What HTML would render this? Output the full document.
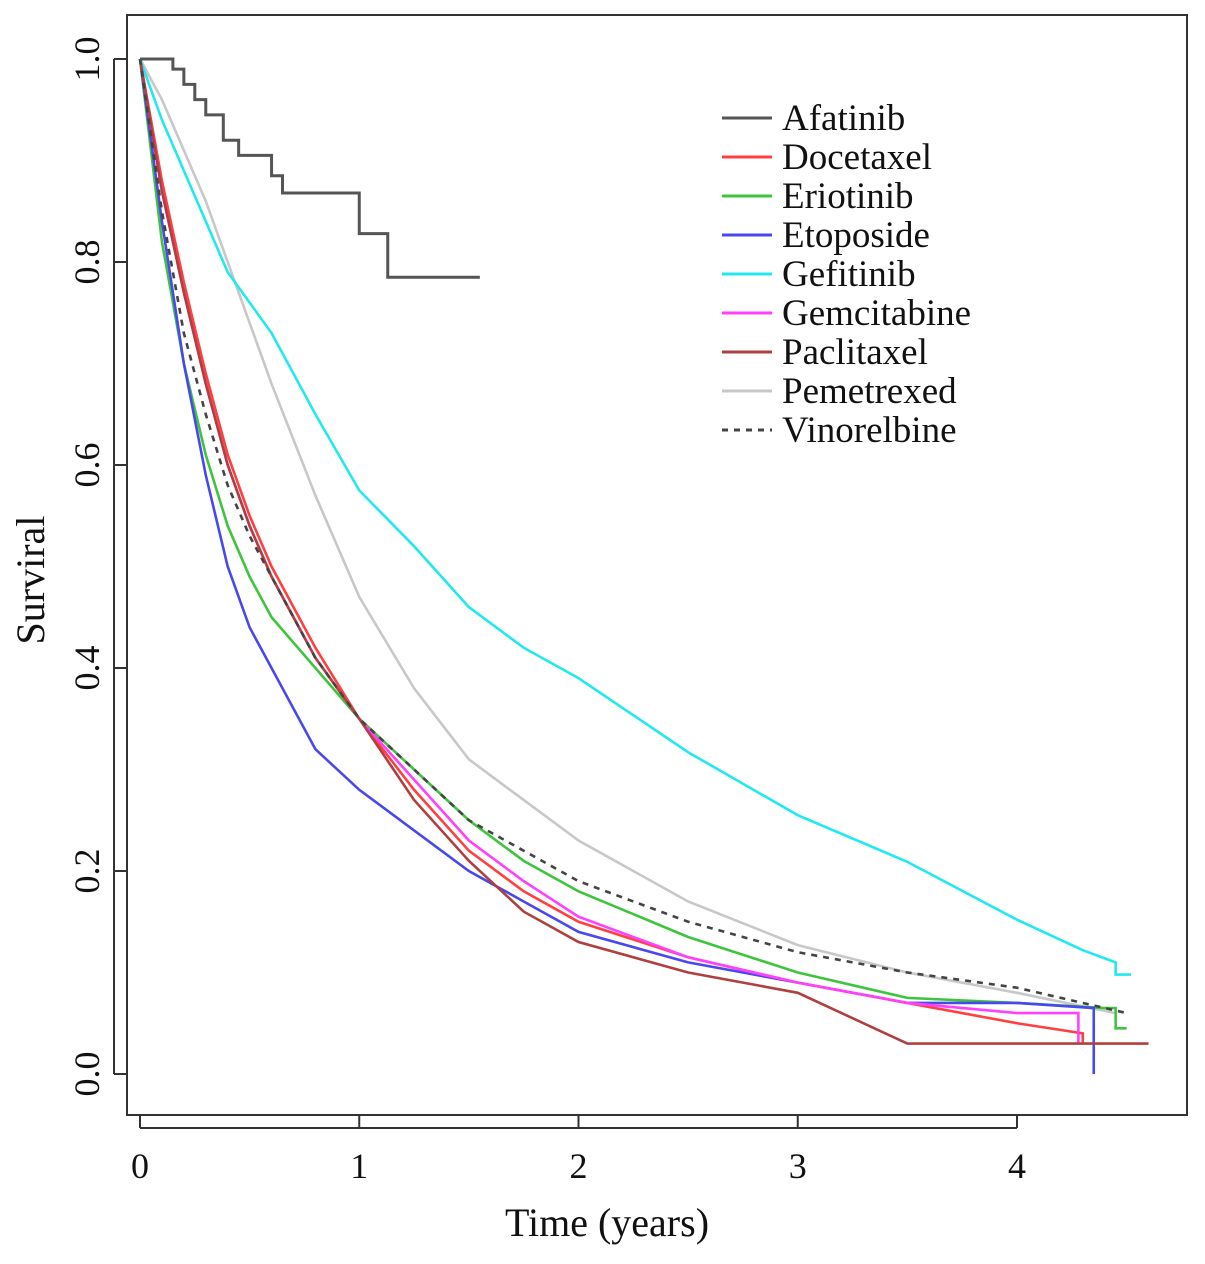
<!DOCTYPE html>
<html><head><meta charset="utf-8"><style>
html,body{margin:0;padding:0;background:#fff;}
svg text{font-family:"Liberation Serif",serif;fill:#111;}
</style></head><body>
<svg id="chart" width="1205" height="1259" xmlns="http://www.w3.org/2000/svg">
<rect x="127" y="15" width="1060" height="1100" fill="none" stroke="#333" stroke-width="2"/>
<g id="axes"></g><g id="series"></g><g id="legend"></g>
<text x="607" y="1236" font-size="40" text-anchor="middle">Time (years)</text>
<text transform="translate(44,580) rotate(-90)" font-size="40" text-anchor="middle">Surviral</text>
</svg>
<script>
const xTicks=[0,1,2,3,4];
const yTicks=[0.0,0.2,0.4,0.6,0.8,1.0];
const seriesNames=["Afatinib","Docetaxel","Eriotinib","Etoposide","Gefitinib","Gemcitabine","Paclitaxel","Pemetrexed","Vinorelbine"];
const tAfatinib=[0,0.15,0.2,0.25,0.3,0.38,0.45,0.6,0.65,1.0,1.13,1.55];
const sAfatinib=[1.0,0.99,0.975,0.96,0.945,0.92,0.905,0.885,0.868,0.828,0.785,0.785];
const tCommon=[0,0.1,0.2,0.3,0.4,0.5,0.6,0.8,1.0,1.25,1.5,1.75,2,2.5,3,3.5,4];
const sDocetaxel=[1,0.88,0.78,0.69,0.61,0.55,0.5,0.42,0.35,0.28,0.22,0.18,0.15,0.115,0.09,0.07,0.05];
const sEriotinib=[1,0.82,0.7,0.61,0.54,0.49,0.45,0.4,0.35,0.3,0.25,0.21,0.18,0.135,0.1,0.075,0.07];
const sEtoposide=[1,0.84,0.7,0.59,0.5,0.44,0.4,0.32,0.28,0.24,0.2,0.17,0.14,0.11,0.09,0.07,0.07];
const sGefitinib=[1,0.94,0.89,0.84,0.79,0.76,0.73,0.65,0.575,0.52,0.46,0.42,0.39,0.317,0.255,0.209,0.152];
const sGemcitabine=[1,0.87,0.77,0.68,0.6,0.54,0.49,0.41,0.35,0.29,0.23,0.19,0.155,0.115,0.09,0.07,0.06];
const sPaclitaxel=[1,0.87,0.77,0.68,0.6,0.54,0.49,0.41,0.35,0.27,0.21,0.16,0.13,0.1,0.08,0.03,0.03];
const sPemetrexed=[1,0.96,0.91,0.86,0.8,0.74,0.68,0.57,0.47,0.38,0.31,0.27,0.23,0.17,0.127,0.1,0.08];
const sVinorelbine=[1,0.85,0.73,0.65,0.58,0.53,0.49,0.41,0.35,0.3,0.25,0.22,0.19,0.15,0.12,0.1,0.085];
const tailT={Docetaxel:[4.3,4.3],Eriotinib:[4.4,4.45,4.45,4.5],Etoposide:[4.35,4.35],Gefitinib:[4.3,4.45,4.45,4.52],Gemcitabine:[4.28,4.28],Paclitaxel:[4.6],Pemetrexed:[4.45],Vinorelbine:[4.3,4.5]};
const tailS={Docetaxel:[0.04,0.03],Eriotinib:[0.065,0.065,0.045,0.045],Etoposide:[0.065,0.0],Gefitinib:[0.122,0.11,0.098,0.098],Gemcitabine:[0.06,0.03],Paclitaxel:[0.03],Pemetrexed:[0.06],Vinorelbine:[0.07,0.06]};
const colors={Afatinib:"#555",Docetaxel:"#ff4040",Eriotinib:"#3ec43e",Etoposide:"#4848ee",Gefitinib:"#22e8f0",Gemcitabine:"#ff40ff",Paclitaxel:"#b04040",Pemetrexed:"#c8c8c8",Vinorelbine:"#444"};
const NS="http://www.w3.org/2000/svg";
const X=t=>140+t*219.25, Y=s=>1074-s*1015;
const axes=document.getElementById('axes');
function mk(tag,attrs,parent){const e=document.createElementNS(NS,tag);for(const k in attrs)e.setAttribute(k,attrs[k]);parent.appendChild(e);return e;}
xTicks.forEach(t=>{
 const l=mk('line',{x1:X(t),x2:X(t),y1:1115,y2:1128,stroke:'#333','stroke-width':2},axes);
 
 
 const tx=mk('text',{x:X(t),y:1178,'font-size':36,'text-anchor':'middle'},axes);tx.textContent=t;
 
 
});
mk('line',{x1:X(0),x2:X(4),y1:1128,y2:1128,stroke:'#333','stroke-width':2},axes);
yTicks.forEach(s=>{
 const l=mk('line',{x1:114,x2:127,y1:Y(s),y2:Y(s),stroke:'#333','stroke-width':2},axes);
 
 
 const tx=mk('text',{transform:`translate(99,${Y(s)}) rotate(-90)`,'font-size':36,'text-anchor':'middle'},axes);tx.textContent=s.toFixed(1);
 
 
});
mk('line',{x1:114,x2:114,y1:Y(0),y2:Y(1),stroke:'#333','stroke-width':2},axes);
const data={Afatinib:[tAfatinib,sAfatinib],Docetaxel:[tCommon,sDocetaxel],Eriotinib:[tCommon,sEriotinib],Etoposide:[tCommon,sEtoposide],Gefitinib:[tCommon,sGefitinib],Gemcitabine:[tCommon,sGemcitabine],Paclitaxel:[tCommon,sPaclitaxel],Pemetrexed:[tCommon,sPemetrexed],Vinorelbine:[tCommon,sVinorelbine]};
const order=["Pemetrexed","Gefitinib","Eriotinib","Etoposide","Docetaxel","Gemcitabine","Paclitaxel","Vinorelbine","Afatinib"];
const sg=document.getElementById('series');
order.forEach(n=>{
 let ts=data[n][0].slice(), ss=data[n][1].slice();
 if(tailT[n]){ts=ts.concat(tailT[n]);ss=ss.concat(tailS[n]);}
 let pts=[];
 if(n==="Afatinib"){ts.forEach((t,i)=>{if(i>0)pts.push(X(t)+','+Y(ss[i-1]));pts.push(X(t)+','+Y(ss[i]));});}
 else ts.forEach((t,i)=>pts.push(X(t)+','+Y(ss[i])));
 const p=mk('polyline',{points:pts.join(' '),fill:'none',stroke:colors[n],'stroke-width':n==="Afatinib"?3:2.6},sg);
 if(n==="Vinorelbine")p.setAttribute('stroke-dasharray','6,6');
 
 
});
const lg=document.getElementById('legend');
seriesNames.forEach((n,i)=>{
 const y=118+i*39;
 const l=mk('line',{x1:722,x2:772,y1:y,y2:y,stroke:colors[n],'stroke-width':3},lg);
 if(n==="Vinorelbine")l.setAttribute('stroke-dasharray','6,6');
 
 
 const tx=mk('text',{x:782,y:y+12,'font-size':37},lg);tx.textContent=n;
 
 
});
</script>
</body></html>
